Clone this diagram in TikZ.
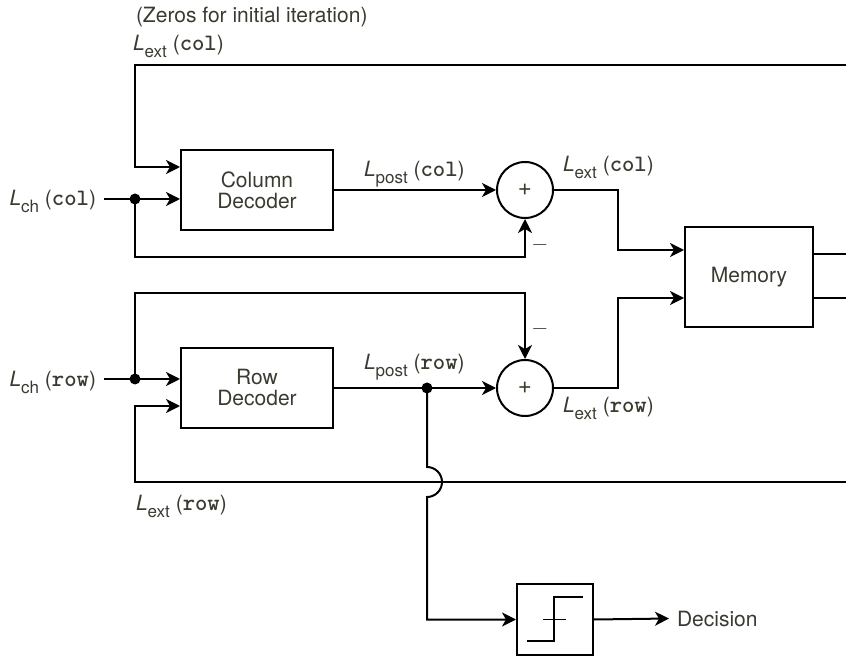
\documentclass[tikz,border=0pt]{standalone}
\usepackage{fontspec}
\setmainfont{TeX Gyre Heros}
\setmonofont{Latin Modern Mono Light}[Scale=1.12]
\usetikzlibrary{arrows.meta}
\definecolor{textgray}{RGB}{58,58,48}
\newcommand{\llab}[3]{\textit{#1}\raisebox{-3.5pt}{\fontsize{8.5}{9}\selectfont #2} (\texttt{\textbf{#3}})}

\begin{document}
\begin{tikzpicture}[x=0.5pt,y=-0.5pt,>={Stealth[length=7pt,width=7pt,inset=2pt]},
    line width=1pt,font=\fontsize{10.5}{10.5}\selectfont,
    block/.style={draw,minimum width=76pt,minimum height=40pt,align=center,text=textgray},
    sum/.style={draw,circle,minimum size=28pt,inner sep=0,text=textgray,font=\fontsize{12}{12}\selectfont},
    lab/.style={text=textgray,inner sep=0},
    dot/.style={circle,fill,inner sep=0,minimum size=5.5pt}]
  \useasboundingbox (0,0) rectangle (846,657);
  \node[block] (coldec) at (257,190) {Column\\Decoder};
  \node[block] (rowdec) at (257,388) {Row\\Decoder};
  \node[sum] (sum1) at (525,190) {+};
  \node[sum] (sum2) at (525,388) {+};
  \node[block,minimum width=64pt,minimum height=50pt] (mem) at (749,277) {Memory};
  \node[draw,minimum width=38pt,minimum height=35.5pt] (thr) at (555,619.5) {};
  \node[dot] (dotcol) at (135,199) {};
  \node[dot] (dotrow) at (135,379) {};
  \node[dot] (dotpost) at (427,388) {};
  \coordinate (fbcol) at (846,65);
  \coordinate (fbrow) at (846,482);
  \coordinate (memout1) at (846,254);
  \coordinate (memout2) at (846,298);
  \coordinate (memin1) at (mem.west |- 0,250);
  \coordinate (memin2) at (mem.west |- 0,298);
  \coordinate (hop) at (dotpost |- fbrow);
  % labels
  \node[lab,anchor=base west] (zeros) at (135,23) {(Zeros for initial iteration)};
  \node[lab,anchor=base west] (lextcoltop) at (132,51) {\llab{L}{ext}{col}};
  \node[lab,inner xsep=3.5pt,anchor=base east] (lchcol) at (104,206) {\llab{L}{ch}{col}};
  \node[lab,inner xsep=3.5pt,anchor=base east] (lchrow) at (104,387) {\llab{L}{ch}{row}};
  \node[lab,anchor=base west] (lpostcol) at (363,177) {\llab{L}{post}{col}};
  \node[lab,anchor=base west] (lpostrow) at (363,370) {\llab{L}{post}{row}};
  \node[lab,anchor=base west] (lextcol) at (562,172) {\llab{L}{ext}{col}};
  \node[lab,anchor=base west] (lextrow) at (562,413) {\llab{L}{ext}{row}};
  \node[lab,anchor=base west] (lextrowbot) at (135,510) {\llab{L}{ext}{row}};
  \node[lab] (minus1) at (540,245) {$-$};
  \node[lab] (minus2) at (540,329) {$-$};
  \node[lab,inner xsep=3.5pt,anchor=base west] (decision) at (669,626) {Decision};
  % column half
  \draw[->] (fbcol) -| (dotcol |- 0,167) -- (coldec.west |- 0,167);
  \draw[->] (lchcol.east |- dotcol) -- (coldec.west |- dotcol);
  \draw[->] (dotcol.center) -- ++(0,58) -| (sum1.south);
  \draw[->] (coldec.east) -- (sum1.west);
  \draw[->] (sum1.east) -- ++(64,0) |- (memin1);
  % row half
  \draw[->] (lchrow.east |- dotrow) -- (rowdec.west |- dotrow);
  \draw[->] (dotrow.center) -- ++(0,-86) -| (sum2.north);
  \draw[->] (fbrow) -| (dotrow |- 0,406) -- (rowdec.west |- 0,406);
  \draw[->] (rowdec.east) -- (sum2.west);
  \draw[->] (sum2.east) -- ++(64,0) |- (memin2);
  % memory outputs
  \draw (mem.east |- memout1) -- (memout1);
  \draw (mem.east |- memout2) -- (memout2);
  % decision
  \draw[->] (dotpost.center) -- ([yshift=7.5pt]hop) arc[start angle=90,end angle=-90,radius=7.5pt] |- (thr.west);
  \draw[->] (thr.east) -- (decision.west);
  \draw[line width=0.75pt] (thr.center) ++(-28,21.5) -- ++(27,0) -- ++(0,-44) -- ++(29,0)
    (thr.center) ++(-12,0) -- ++(23,0);
\end{tikzpicture}
\end{document}
